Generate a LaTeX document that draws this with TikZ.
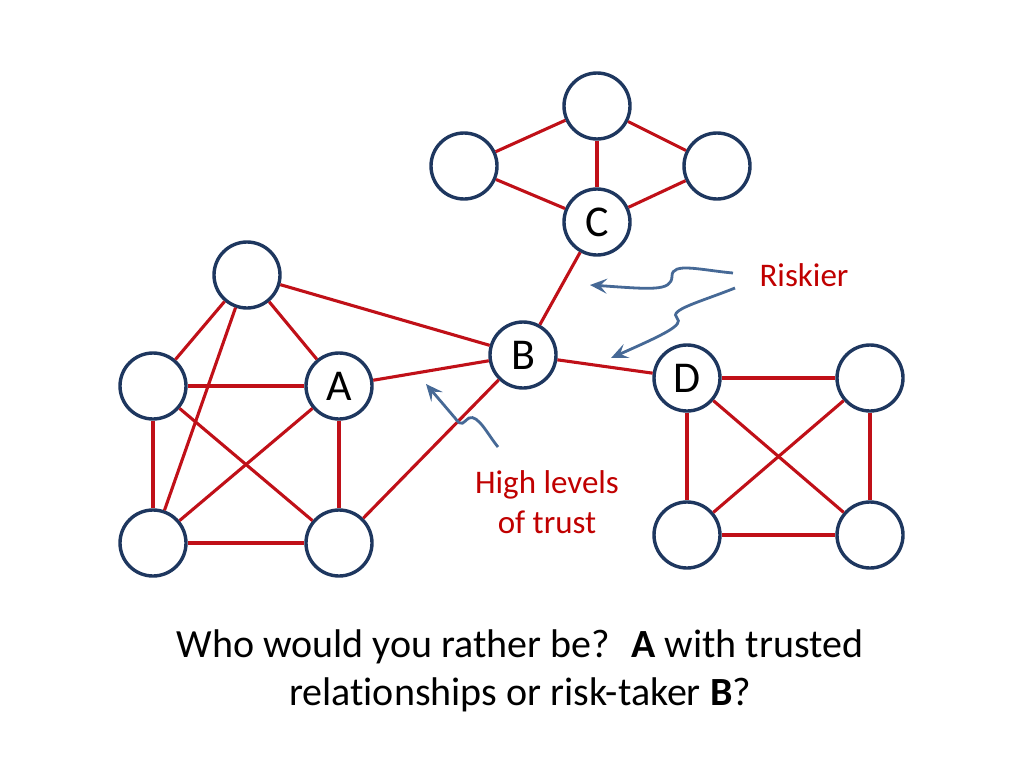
\documentclass[tikz,border=0pt]{standalone}
\usepackage{fontspec}
\setmainfont{Carlito}[Ligatures=NoCommon]
\usetikzlibrary{arrows.meta}
\definecolor{edgered}{RGB}{192,16,24}
\definecolor{navy}{RGB}{30,55,95}
\definecolor{arrowblue}{RGB}{70,105,150}
\definecolor{labelred}{RGB}{192,0,0}
\tikzset{
  vert/.style={circle, draw=navy, line width=3.4pt, fill=white, minimum size=66pt, inner sep=0pt, font=\fontsize{44}{52}\selectfont},
  link/.style={draw=edgered, line width=3.1pt},
  pointer/.style={draw=arrowblue, line width=2.8pt, -{Stealth[length=17pt,width=15pt,inset=7pt]}},
  lbl/.style={text=labelred, font=\fontsize{33}{40}\selectfont, align=center},
  caption/.style={font=\fontsize{40}{48}\selectfont, align=center}
}
\begin{document}
\begin{tikzpicture}[x=1pt,y=-1pt]
\useasboundingbox (0,0) rectangle (1024,768);
% top cluster
\node[vert] (tt) at (597,106) {};
\node[vert] (tl) at (464,166) {};
\node[vert] (tr) at (717,166) {};
\node[vert] (C) at (597,222) {C};
% left cluster
\node[vert] (lt) at (247,275) {};
\node[vert] (lm) at (153,386) {};
\node[vert] (A) at (339,386) {A};
\node[vert] (lbl) at (153,543) {};
\node[vert] (lbr) at (339,543) {};
% B
\node[vert] (B) at (523,355) {B};
% right cluster
\node[vert] (D) at (687,378) {D};
\node[vert] (rtr) at (870,378) {};
\node[vert] (rbl) at (687,535) {};
\node[vert] (rbr) at (870,535) {};
% edges
\foreach \u/\v in {tt/tl, tt/tr, tt/C, tl/C, tr/C, C/B, B/lt, B/A, B/lbr, B/D,
  lt/lm, lt/A, lt/lbl, lm/A, lm/lbl, lm/lbr, A/lbl, A/lbr, lbl/lbr,
  D/rtr, D/rbl, D/rbr, rtr/rbl, rtr/rbr, rbl/rbr}
  \draw[link] (\u) -- (\v);
% labels
\node[lbl, anchor=base] (risk) at (804,286) {Riskier};
\node[lbl, anchor=base] (trust) at (547,533) {High levels\\of trust};
\node[caption, anchor=base] (cap) at (520,705) {Who would you rather be?~ \textbf{A} with trusted\\relationships or risk-taker \textbf{B}?};
% wavy arrows
\coordinate (s1) at (733,273);
\coordinate (e1) at (590,285);
\coordinate (s2) at (735,288);
\coordinate (e2) at (611,358);
\coordinate (s3) at (498,447);
\coordinate (e3) at (426,384);
\draw[pointer] (s1) .. controls (700,270) and (672,262) .. (672,276) .. controls (672,292) and (650,289) .. (e1);
\draw[pointer] (s2) .. controls (700,302) and (668,310) .. (677,318) .. controls (684,325) and (665,334) .. (e2);
\draw[pointer] (s3) .. controls (488,435) and (478,414) .. (469,418) .. controls (463,422) and (462,428) .. (455,418) -- (e3);
\end{tikzpicture}
\end{document}
